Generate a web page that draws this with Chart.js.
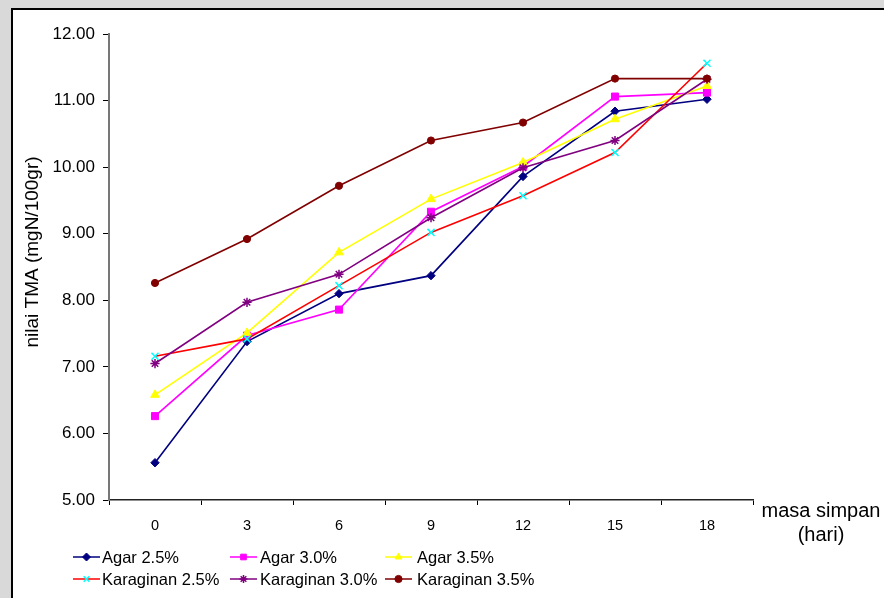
<!DOCTYPE html>
<html>
<head>
<meta charset="utf-8">
<script src="https://cdn.jsdelivr.net/npm/chart.js@4"></script>
<style>
  html, body { margin: 0; padding: 0; background: #d9d9d9; width: 884px; height: 598px; overflow: hidden; }
  #frame { position: absolute; left: 11px; top: 8px; width: 900px; height: 620px; background: #fff;
           border-left: 2px solid #000; border-top: 2px solid #000; }
  canvas { position: absolute; left: 0; top: 0; }
</style>
</head>
<body>
<div id="frame"></div>
<canvas id="c" width="884" height="598"></canvas>
<script>
// ---- data ----
const categories = ['0', '3', '6', '9', '12', '15', '18'];
const seriesNames = ['Agar 2.5%', 'Agar 3.0%', 'Agar 3.5%', 'Karaginan 2.5%', 'Karaginan 3.0%', 'Karaginan 3.5%'];
const agar25 = [5.56, 7.38, 8.10, 8.37, 9.86, 10.84, 11.02];
const agar30 = [6.26, 7.47, 7.86, 9.33, 10.01, 11.06, 11.12];
const agar35 = [6.58, 7.51, 8.72, 9.52, 10.07, 10.72, 11.22];
const kar25  = [7.16, 7.42, 8.22, 9.02, 9.57, 10.22, 11.56];
const kar30  = [7.05, 7.97, 8.39, 9.24, 9.99, 10.40, 11.32];
const kar35  = [8.26, 8.92, 9.72, 10.40, 10.67, 11.33, 11.33];
const yTicks = [5, 6, 7, 8, 9, 10, 11, 12];
const yTitle = 'nilai TMA (mgN/100gr)';
const xTitleLines = ['masa simpan', '(hari)'];

const FONT = '"Liberation Sans", Arial, sans-serif';

const styles = [
  { line: '#000080', fill: '#000080', stroke: '#000080', point: 'rectRot', r: 4.2, bw: 1 },
  { line: '#FF00FF', fill: '#FF00FF', stroke: '#FF00FF', point: 'rect', r: 5, bw: 1 },
  { line: '#FFFF00', fill: '#FFFF00', stroke: '#FFFF00', point: 'triangle', r: 5, bw: 1 },
  { line: '#FF0000', fill: '#00FFFF', stroke: '#00FFFF', point: 'crossRot', r: 5, bw: 1.5 },
  { line: '#800080', fill: '#800080', stroke: '#800080', point: 'star', r: 4.6, bw: 1.5 },
  { line: '#800000', fill: '#800000', stroke: '#800000', point: 'circle', r: 3.6, bw: 1 }
];
const values = [agar25, agar30, agar35, kar25, kar30, kar35];

const datasets = values.map((v, i) => ({
  label: seriesNames[i],
  data: v,
  borderColor: styles[i].line,
  borderWidth: 1.6,
  pointStyle: styles[i].point,
  pointRadius: styles[i].r,
  pointBackgroundColor: styles[i].fill,
  pointBorderColor: styles[i].stroke,
  pointBorderWidth: styles[i].bw,
  tension: 0,
  fill: false,
  order: 6 - i
}));

const LEG_LINE_X = [73, 230, 385];
const LEG_TEXT_X = [102, 260, 417];
const LEG_Y = [557, 579];

const overlay = {
  id: 'overlay',
  afterDraw(chart) {
    const ctx = chart.ctx;
    // y-axis title
    ctx.save();
    ctx.fillStyle = '#000';
    ctx.font = '19px ' + FONT;
    ctx.textAlign = 'center';
    ctx.textBaseline = 'middle';
    ctx.translate(33, 252);
    ctx.rotate(-Math.PI / 2);
    ctx.fillText(yTitle, 0, 0);
    ctx.restore();
    // x-axis title
    ctx.save();
    ctx.fillStyle = '#000';
    ctx.font = '20px ' + FONT;
    ctx.textAlign = 'center';
    ctx.textBaseline = 'middle';
    ctx.fillText(xTitleLines[0], 821, 511);
    ctx.fillText(xTitleLines[1], 821, 535);
    ctx.restore();
    // legend
    chart.data.datasets.forEach((ds, i) => {
      const col = i % 3, row = Math.floor(i / 3);
      const x0 = LEG_LINE_X[col], y = LEG_Y[row];
      ctx.save();
      ctx.strokeStyle = ds.borderColor;
      ctx.lineWidth = 2;
      ctx.globalAlpha = 0.75;
      ctx.beginPath();
      ctx.moveTo(x0, y);
      ctx.lineTo(x0 + 27, y);
      ctx.stroke();
      ctx.globalAlpha = 1;
      ctx.fillStyle = ds.pointBackgroundColor;
      ctx.strokeStyle = ds.pointBorderColor;
      ctx.lineWidth = ds.pointBorderWidth;
      Chart.helpers.drawPoint(ctx, {
        pointStyle: ds.pointStyle, radius: Math.min(ds.pointRadius, 4),
        borderWidth: ds.pointBorderWidth, rotation: 0
      }, x0 + 13.5, y);
      ctx.fillStyle = '#000';
      ctx.font = '16.5px ' + FONT;
      ctx.textAlign = 'left';
      ctx.textBaseline = 'middle';
      ctx.fillText(ds.label, LEG_TEXT_X[col], y + 1);
      ctx.restore();
    });
  }
};

new Chart(document.getElementById('c'), {
  type: 'line',
  data: { labels: categories, datasets },
  plugins: [overlay],
  options: {
    responsive: false,
    animation: false,
    events: [],
    layout: { padding: { left: 0, top: 34, right: 131, bottom: 0 } },
    plugins: { legend: { display: false }, tooltip: { enabled: false }, title: { display: false } },
    scales: {
      x: {
        type: 'category',
        offset: true,
        grid: { display: true, offset: true, drawOnChartArea: false, drawTicks: true, tickLength: 5, color: '#000', lineWidth: 1 },
        border: { display: true, color: '#222', width: 1.5 },
        ticks: { color: '#000', font: { family: FONT, size: 14.5 }, padding: 12, maxRotation: 0 },
        afterFit(s) { s.height = 98; }
      },
      y: {
        type: 'linear',
        min: 5,
        max: 12,
        afterBuildTicks(s) { s.ticks = yTicks.map(v => ({ value: v })); },
        grid: { display: true, drawOnChartArea: false, drawTicks: true, tickLength: 6, color: '#000', lineWidth: 1 },
        border: { display: true, color: '#777', width: 2 },
        ticks: { color: '#000', font: { family: FONT, size: 17 }, padding: 8, callback: v => Number(v).toFixed(2) },
        afterFit(s) { s.width = 109; }
      }
    }
  }
});
</script>
</body>
</html>
